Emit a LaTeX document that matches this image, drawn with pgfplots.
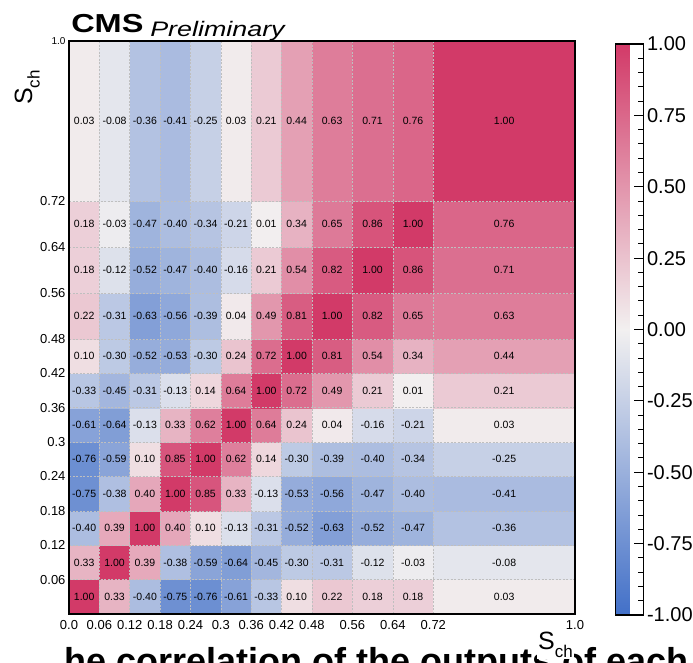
\documentclass[border=0pt]{standalone}
\usepackage{fontspec}
\setmainfont{Liberation Sans}
\usepackage{pgfplots}
\pgfplotsset{compat=1.18}
\usepackage{pgfplotstable}

% corner grid: bin lower edges (x,y) with the bin's correlation c; last row/column = padding
\pgfplotstableread{
x y c
0 0 1.00
0.06 0 0.33
0.12 0 -0.40
0.18 0 -0.75
0.24 0 -0.76
0.3 0 -0.61
0.36 0 -0.33
0.42 0 0.10
0.48 0 0.22
0.56 0 0.18
0.64 0 0.18
0.72 0 0.03
1.0 0 0
0 0.06 0.33
0.06 0.06 1.00
0.12 0.06 0.39
0.18 0.06 -0.38
0.24 0.06 -0.59
0.3 0.06 -0.64
0.36 0.06 -0.45
0.42 0.06 -0.30
0.48 0.06 -0.31
0.56 0.06 -0.12
0.64 0.06 -0.03
0.72 0.06 -0.08
1.0 0.06 0
0 0.12 -0.40
0.06 0.12 0.39
0.12 0.12 1.00
0.18 0.12 0.40
0.24 0.12 0.10
0.3 0.12 -0.13
0.36 0.12 -0.31
0.42 0.12 -0.52
0.48 0.12 -0.63
0.56 0.12 -0.52
0.64 0.12 -0.47
0.72 0.12 -0.36
1.0 0.12 0
0 0.18 -0.75
0.06 0.18 -0.38
0.12 0.18 0.40
0.18 0.18 1.00
0.24 0.18 0.85
0.3 0.18 0.33
0.36 0.18 -0.13
0.42 0.18 -0.53
0.48 0.18 -0.56
0.56 0.18 -0.47
0.64 0.18 -0.40
0.72 0.18 -0.41
1.0 0.18 0
0 0.24 -0.76
0.06 0.24 -0.59
0.12 0.24 0.10
0.18 0.24 0.85
0.24 0.24 1.00
0.3 0.24 0.62
0.36 0.24 0.14
0.42 0.24 -0.30
0.48 0.24 -0.39
0.56 0.24 -0.40
0.64 0.24 -0.34
0.72 0.24 -0.25
1.0 0.24 0
0 0.3 -0.61
0.06 0.3 -0.64
0.12 0.3 -0.13
0.18 0.3 0.33
0.24 0.3 0.62
0.3 0.3 1.00
0.36 0.3 0.64
0.42 0.3 0.24
0.48 0.3 0.04
0.56 0.3 -0.16
0.64 0.3 -0.21
0.72 0.3 0.03
1.0 0.3 0
0 0.36 -0.33
0.06 0.36 -0.45
0.12 0.36 -0.31
0.18 0.36 -0.13
0.24 0.36 0.14
0.3 0.36 0.64
0.36 0.36 1.00
0.42 0.36 0.72
0.48 0.36 0.49
0.56 0.36 0.21
0.64 0.36 0.01
0.72 0.36 0.21
1.0 0.36 0
0 0.42 0.10
0.06 0.42 -0.30
0.12 0.42 -0.52
0.18 0.42 -0.53
0.24 0.42 -0.30
0.3 0.42 0.24
0.36 0.42 0.72
0.42 0.42 1.00
0.48 0.42 0.81
0.56 0.42 0.54
0.64 0.42 0.34
0.72 0.42 0.44
1.0 0.42 0
0 0.48 0.22
0.06 0.48 -0.31
0.12 0.48 -0.63
0.18 0.48 -0.56
0.24 0.48 -0.39
0.3 0.48 0.04
0.36 0.48 0.49
0.42 0.48 0.81
0.48 0.48 1.00
0.56 0.48 0.82
0.64 0.48 0.65
0.72 0.48 0.63
1.0 0.48 0
0 0.56 0.18
0.06 0.56 -0.12
0.12 0.56 -0.52
0.18 0.56 -0.47
0.24 0.56 -0.40
0.3 0.56 -0.16
0.36 0.56 0.21
0.42 0.56 0.54
0.48 0.56 0.82
0.56 0.56 1.00
0.64 0.56 0.86
0.72 0.56 0.71
1.0 0.56 0
0 0.64 0.18
0.06 0.64 -0.03
0.12 0.64 -0.47
0.18 0.64 -0.40
0.24 0.64 -0.34
0.3 0.64 -0.21
0.36 0.64 0.01
0.42 0.64 0.34
0.48 0.64 0.65
0.56 0.64 0.86
0.64 0.64 1.00
0.72 0.64 0.76
1.0 0.64 0
0 0.72 0.03
0.06 0.72 -0.08
0.12 0.72 -0.36
0.18 0.72 -0.41
0.24 0.72 -0.25
0.3 0.72 0.03
0.36 0.72 0.21
0.42 0.72 0.44
0.48 0.72 0.63
0.56 0.72 0.71
0.64 0.72 0.76
0.72 0.72 1.00
1.0 0.72 0
0 1.0 0
0.06 1.0 0
0.12 1.0 0
0.18 1.0 0
0.24 1.0 0
0.3 1.0 0
0.36 1.0 0
0.42 1.0 0
0.48 1.0 0
0.56 1.0 0
0.64 1.0 0
0.72 1.0 0
1.0 1.0 0
}\corrtable

\begin{document}
\begin{tikzpicture}
\useasboundingbox (0,0) rectangle (693pt,663pt);
\clip (0,0) rectangle (693pt,663pt);

% cut-off slide text at the bottom
\node[anchor=base west, inner sep=0pt, font=\bfseries\fontsize{36}{36}\selectfont] at (64pt,-11pt) {he correlation of the outputs of each};

\begin{axis}[
  at={(69pt,49pt)}, anchor=south west,
  scale only axis, width=506pt, height=573pt,
  xmin=0, xmax=1, ymin=0, ymax=1,
  colormap={cmsmap}{rgb255(0cm)=(66,112,200); rgb255(1cm)=(242,240,240); rgb255(2cm)=(210,58,104)},
  point meta min=-1, point meta max=1,
  xtick={0,0.06,0.12,0.18,0.24,0.3,0.36,0.42,0.48,0.56,0.64,0.72,1.0},
  xticklabels={0.0,0.06,0.12,0.18,0.24,0.3,0.36,0.42,0.48,0.56,0.64,0.72,1.0},
  ytick={0,0.06,0.12,0.18,0.24,0.3,0.36,0.42,0.48,0.56,0.64,0.72,1.0},
  yticklabels={,0.06,0.12,0.18,0.24,0.3,0.36,0.42,0.48,0.56,0.64,0.72,{\fontsize{10}{10}\selectfont 1.0}},
  major tick length=0pt,
  grid=major,
  grid style={gray!50, dash pattern=on 2pt off 1.5pt, line width=0.6pt},
  axis on top,
  axis line style={line width=2pt, black},
  tick label style={font=\fontsize{13}{13}\selectfont},
  xticklabel style={yshift=-3pt},
  colorbar,
  colorbar style={
    at={(parent axis.south east)}, anchor=south west, xshift=32pt, yshift=-1pt,
    scale only axis, width=28pt, height=571pt,
    ytick={-1,-0.75,-0.5,-0.25,0,0.25,0.5,0.75,1},
    yticklabels={-1.00,-0.75,-0.50,-0.25,0.00,0.25,0.50,0.75,1.00},
    minor y tick num=4,
    yticklabel pos=right, ytick pos=right,
    tick align=inside,
    major tick length=10pt, minor tick length=6pt,
    every tick/.style={black, line width=1pt},
    axis line style={line width=1.5pt, black},
    yticklabel style={font=\fontsize{20}{20}\selectfont},
  },
]
\addplot[surf, shader=flat corner, mesh/cols=13, point meta=explicit]
  table[x=x, y=y, meta=c] {\corrtable};
\addplot[only marks, mark=none, point meta=explicit,
  nodes near coords={\pgfmathprintnumber[fixed,fixed zerofill,precision=2,assume math mode=true]{\pgfplotspointmeta}},
  every node near coord/.append style={anchor=center, text=black, font=\fontsize{10.5}{10.5}\selectfont},
  restrict x to domain=0:0.95, restrict y to domain=0:0.95]
  table[x expr={\thisrow{x}+(\thisrow{x}<0.47)*0.03+(\thisrow{x}>0.47)*(\thisrow{x}<0.71)*0.04+(\thisrow{x}>0.71)*0.14},
        y expr={\thisrow{y}+(\thisrow{y}<0.47)*0.03+(\thisrow{y}>0.47)*(\thisrow{y}<0.71)*0.04+(\thisrow{y}>0.71)*0.14},
        meta=c] {\corrtable};
\end{axis}

\node[anchor=base west, inner sep=0pt, font=\bfseries\fontsize{26}{26}\selectfont, xscale=1.25] at (71pt,630pt) {CMS};
\node[anchor=base west, inner sep=0pt, font=\itshape\fontsize{21}{21}\selectfont, xscale=1.28] at (150pt,626pt) {Preliminary};
\node[anchor=base west, inner sep=1pt, fill=white, font=\fontsize{25}{25}\selectfont] at (537pt,13pt) {S\raisebox{-0.3em}{\fontsize{17}{17}\selectfont ch}};
\node[anchor=base west, inner sep=0pt, rotate=90, font=\fontsize{25}{25}\selectfont] at (32pt,558pt) {S\raisebox{-0.3em}{\fontsize{17}{17}\selectfont ch}};
\end{tikzpicture}
\end{document}
